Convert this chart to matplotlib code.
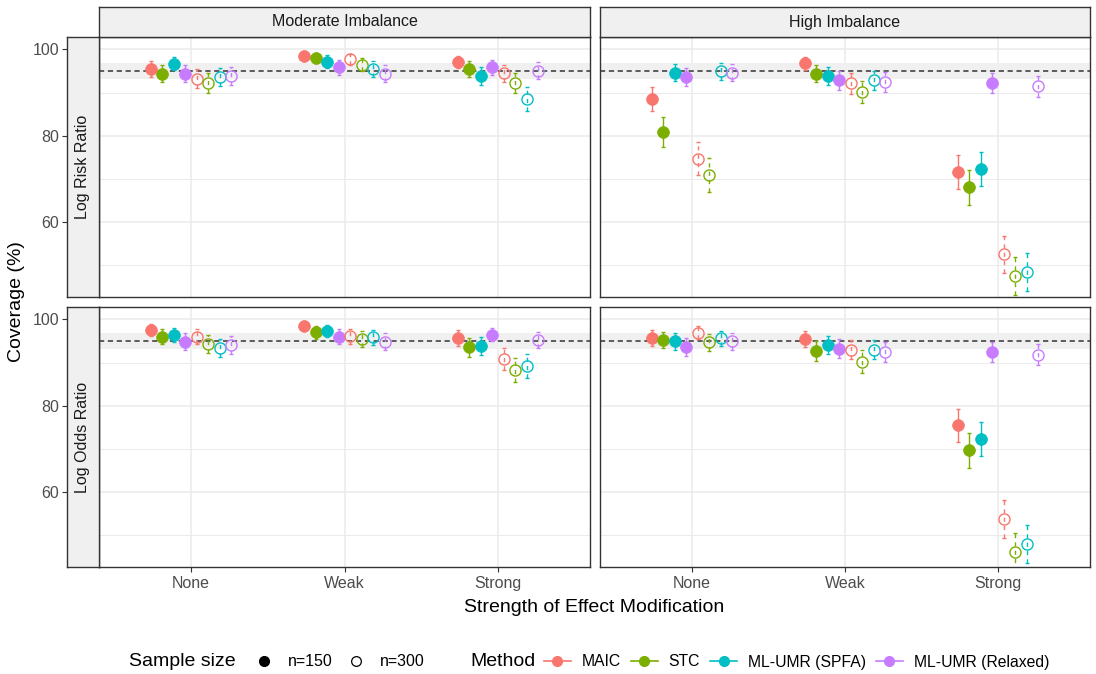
import numpy as np
import matplotlib
matplotlib.use("Agg")
import matplotlib.pyplot as plt
from matplotlib.lines import Line2D

plt.rcParams['font.family'] = ['Liberation Sans', 'DejaVu Sans']

methods = ["MAIC", "STC", "ML-UMR (SPFA)", "ML-UMR (Relaxed)"]
method_colors = ["#F8766D", "#7CAE00", "#00BFC4", "#C77CFF"]
strengths = ["None", "Weak", "Strong"]
sample_sizes = ["n=150", "n=300"]
imbalances = ["Moderate Imbalance", "High Imbalance"]
outcomes = ["Log Risk Ratio", "Log Odds Ratio"]

# coverage (%), rows = methods, columns = strength (None, Weak, Strong)
rr_mod_n150 = [[95.5, 98.5, 97.1], [94.4, 98.1, 95.4], [96.7, 97.2, 93.8], [94.4, 95.9, 95.9]]
rr_mod_n300 = [[93.2, 97.7, 94.5], [92.2, 96.5, 92.2], [93.6, 95.4, 88.4], [93.8, 94.4, 95.1]]
rr_high_n150 = [[88.4, 96.8, 71.5], [80.8, 94.4, 68.0], [94.6, 93.8, 72.2], [93.6, 92.8, 92.2]]
rr_high_n300 = [[74.6, 92.1, 52.4], [70.9, 90.1, 47.4], [94.9, 92.8, 48.3], [94.6, 92.4, 91.5]]
or_mod_n150 = [[97.6, 98.6, 95.7], [96.0, 97.0, 93.5], [96.4, 97.4, 93.9], [94.8, 96.0, 96.5]]
or_mod_n300 = [[96.0, 96.1, 90.8], [94.3, 95.5, 88.3], [93.4, 95.9, 89.2], [94.0, 94.8, 95.2]]
or_high_n150 = [[95.7, 95.5, 75.4], [95.2, 92.7, 69.6], [94.9, 94.0, 72.3], [93.6, 93.2, 92.4]]
or_high_n300 = [[96.9, 93.0, 53.6], [94.7, 90.2, 46.0], [95.6, 93.0, 47.9], [94.9, 92.4, 91.8]]

n_sim = 500            # simulation replicates behind the Monte Carlo intervals
nominal = 95
band_lo, band_hi = 93.1, 96.9

panels = {
    (0, 0): (rr_mod_n150, rr_mod_n300),
    (0, 1): (rr_high_n150, rr_high_n300),
    (1, 0): (or_mod_n150, or_mod_n300),
    (1, 1): (or_high_n150, or_high_n300),
}

W, H = 1096, 674
fig = plt.figure(figsize=(W / 100, H / 100), dpi=100)


def rect(x0, y0, x1, y1):
    return [x0 / W, 1 - y1 / H, (x1 - x0) / W, (y1 - y0) / H]


col_x = [(99, 590), (600, 1090)]
row_y = [(37, 297), (307, 567)]
ylim = (42.5, 102.9)
dodge = 0.075
border = "#333333"
grid_c = "#EBEBEB"
strip_c = "#F0F0F0"

for (r, c), (d150, d300) in panels.items():
    x0, x1 = col_x[c]
    y0, y1 = row_y[r]
    ax = fig.add_axes(rect(x0, y0, x1, y1))
    ax.set_xlim(0.4, 3.6)
    ax.set_ylim(*ylim)
    ax.set_yticks([60, 80, 100])
    ax.set_yticks([50, 70, 90], minor=True)
    ax.set_xticks([1, 2, 3])
    ax.grid(True, which='major', color=grid_c, lw=1.1)
    ax.grid(True, which='minor', axis='y', color=grid_c, lw=0.7)
    ax.set_axisbelow(True)
    for sp in ax.spines.values():
        sp.set_color(border)
        sp.set_linewidth(1.0)
    ax.tick_params(axis='y', which='both', left=False, labelleft=False)
    if r == 1:
        ax.set_xticklabels(strengths)
        ax.tick_params(axis='x', length=3.5, width=0.8, color=border,
                       labelsize=11.5, labelcolor="#4D4D4D", pad=3)
    else:
        ax.tick_params(axis='x', bottom=False, labelbottom=False)

    ax.axhspan(band_lo, band_hi, color=strip_c, lw=0, zorder=1)
    ax.axhline(nominal, color="#333333", lw=1.1, ls=(0, (3.4, 2.4)), zorder=2)

    for s, data in enumerate((d150, d300)):
        for m, col in enumerate(method_colors):
            g = s * 4 + m
            xs = np.arange(1, 4) + (g - 3.5) * dodge
            ys = np.array(data[m])
            hw = 1.96 * np.sqrt(ys * (100 - ys) / n_sim)
            eb = ax.errorbar(xs, ys, yerr=hw, fmt='none', ecolor=col,
                             elinewidth=1.0, capsize=1.6, capthick=1.0, zorder=3)
            if s == 1:
                eb.lines[2][0].set_linestyle((0, (3, 3)))
            if s == 0:
                ax.plot(xs, ys, 'o', ms=8.5, mfc=col, mec=col, mew=0.5, zorder=4)
            else:
                ax.plot(xs, ys, 'o', ms=8.0, mfc='none', mec=col, mew=1.0, zorder=4)

    if r == 0:
        sax = fig.add_axes(rect(x0, 7, x1, 37))
        sax.set_facecolor(strip_c)
        sax.set_xticks([])
        sax.set_yticks([])
        for sp in sax.spines.values():
            sp.set_color(border)
            sp.set_linewidth(1.0)
        sax.text(0.5, 0.5, imbalances[c], ha='center', va='center',
                 fontsize=11.5, color="#1A1A1A", transform=sax.transAxes)

    if c == 0:
        lax = fig.add_axes(rect(67, y0, 99, y1))
        lax.set_facecolor(strip_c)
        lax.set_ylim(*ylim)
        lax.set_xticks([])
        lax.set_yticks([60, 80, 100])
        lax.tick_params(axis='y', length=3.5, width=0.8, color=border,
                        labelsize=11.5, labelcolor="#4D4D4D", pad=2)
        for sp in lax.spines.values():
            sp.set_color(border)
            sp.set_linewidth(1.0)
        lax.text(0.5, 0.5, outcomes[r], rotation=90, ha='center', va='center',
                 fontsize=11.5, color="#1A1A1A", transform=lax.transAxes)

fig.text(17 / W, 1 - 302 / H, "Coverage (%)", rotation=90, ha='center',
         va='center', fontsize=14)
fig.text(594 / W, 1 - 607 / H, "Strength of Effect Modification", ha='center',
         va='center', fontsize=14)

# legends
leg_y = 1 - 662 / H
fig.text(129 / W, leg_y, "Sample size", ha='left', va='center', fontsize=14)
size_handles = [
    Line2D([], [], ls='none', marker='o', ms=7, mfc='black', mec='black'),
    Line2D([], [], ls='none', marker='o', ms=7, mfc='none', mec='black', mew=0.9),
]
fig.legend(size_handles, sample_sizes, loc='center left',
           bbox_to_anchor=(256 / W, leg_y), ncol=2, frameon=False,
           fontsize=11.5, handlelength=1.0, handletextpad=1.0,
           columnspacing=0.95, borderaxespad=0, borderpad=0)

fig.text(470 / W, leg_y, "Method", ha='left', va='center', fontsize=14)
method_handles = [Line2D([], [], color=col, lw=1.2, marker='o', ms=7, mfc=col, mec=col)
                  for col in method_colors]
fig.legend(method_handles, methods, loc='center left',
           bbox_to_anchor=(544 / W, leg_y), ncol=4, frameon=False,
           fontsize=11.3, handlelength=1.7, handletextpad=0.7,
           columnspacing=0.65, borderaxespad=0, borderpad=0)

fig.savefig("out.png", dpi=100)
